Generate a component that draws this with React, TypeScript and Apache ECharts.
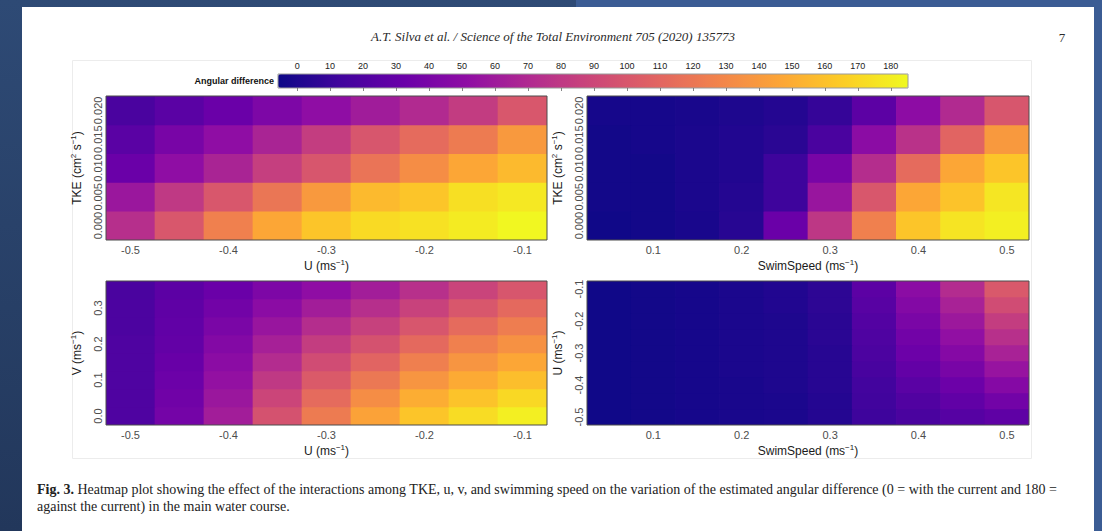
import React, { useEffect, useRef } from 'react';
import * as echarts from 'echarts';

// ---------- data ----------
const U_VALUES = [-0.5, -0.45, -0.4, -0.35, -0.3, -0.25, -0.2, -0.15, -0.1];
const SWIM_VALUES = [0.05, 0.1, 0.15, 0.2, 0.25, 0.3, 0.35, 0.4, 0.45, 0.5];
const TKE_VALUES = [0, 0.005, 0.01, 0.015, 0.02];
const V_VALUES = [0, 0.05, 0.1, 0.15, 0.2, 0.25, 0.3, 0.35];
const COLORBAR_TICKS = [0, 10, 20, 30, 40, 50, 60, 70, 80, 90, 100, 110, 120, 130, 140, 150, 160, 170, 180];

// Angular difference; rows follow the y categories from bottom to top, columns the x categories
const ANGLE_TKE_U = [
  [75, 100, 124, 144, 158, 167, 170, 174, 179],
  [60, 81, 100, 118, 137, 153, 158, 169, 173],
  [36, 54, 68, 85, 99, 117, 131, 144, 153],
  [29, 43, 54, 68, 84, 99, 112, 121, 137],
  [22, 29, 36, 45, 54, 63, 72, 83, 100],
];
const ANGLE_TKE_SWIM = [
  [1, 2, 4, 9, 36, 80, 124, 158, 171, 176],
  [2, 2, 5, 8, 17, 59, 100, 144, 157, 172],
  [2, 2, 5, 7, 17, 43, 74, 112, 144, 158],
  [2, 3, 5, 7, 10, 22, 52, 77, 108, 137],
  [3, 3, 4, 6, 8, 14, 30, 53, 72, 99],
];
const ANGLE_V_U = [
  [24, 41, 64, 97, 121, 142, 158, 168, 176],
  [24, 39, 60, 89, 112, 131, 147, 157, 166],
  [24, 37, 56, 81, 102, 119, 135, 146, 155],
  [24, 35, 52, 73, 93, 108, 123, 135, 144],
  [24, 33, 48, 66, 84, 97, 111, 124, 133],
  [23, 32, 44, 59, 74, 86, 99, 112, 122],
  [23, 31, 40, 52, 64, 75, 87, 100, 111],
  [22, 30, 36, 45, 54, 64, 76, 88, 99],
];
const ANGLE_U_SWIM = [
  [1, 2, 3, 4, 5, 8, 17, 22, 27, 31],
  [1, 2, 3, 4, 5, 8, 18, 25, 32, 40],
  [1, 2, 3, 4, 6, 9, 19, 29, 37, 49],
  [1, 2, 3, 5, 6, 9, 21, 33, 43, 58],
  [1, 2, 3, 5, 6, 9, 23, 37, 49, 67],
  [1, 2, 3, 5, 6, 10, 24, 40, 55, 76],
  [1, 2, 3, 5, 6, 10, 26, 44, 61, 84],
  [1, 2, 3, 5, 7, 11, 28, 48, 67, 93],
  [1, 2, 3, 5, 7, 11, 30, 52, 73, 101],
];

const PLASMA = [
  '#0d0887', '#41049d', '#6a00a8', '#8f0da4', '#b12a90', '#cc4778',
  '#e16462', '#f2844b', '#fca636', '#fcce25', '#f0f921',
];

const HEADER = 'A.T. Silva et al. / Science of the Total Environment 705 (2020) 135773';
const CAPTION_1 =
  'Heatmap plot showing the effect of the interactions among TKE, u, v, and swimming speed on the variation of the estimated angular difference (0 = with the current and 180 =';
const CAPTION_2 = 'against the current) in the main water course.';

const SANS = '"Liberation Sans", Arial, sans-serif';
const SERIF = '"Liberation Serif", "Times New Roman", serif';

const toCells = (m: number[][]) => m.flatMap((row, y) => row.map((v, x) => [x, y, v]));

const nameStyle = {
  rich: {
    n: { fontSize: 12, fontFamily: SANS, color: '#1a1a1a', lineHeight: 15 },
    s: { fontSize: 8, fontFamily: SANS, color: '#1a1a1a', lineHeight: 8, verticalAlign: 'top' },
  },
};

type Panel = {
  grid: { left: number; top: number; width: number; height: number };
  xs: number[];
  ys: number[];
  xName: string;
  yName: string;
  xShow: (i: number) => boolean;
  yShow: (i: number) => boolean;
  yDigits: number;
  data: number[][];
};

const PANELS: Panel[] = [
  {
    grid: { left: 106, top: 96, width: 441, height: 144 },
    xs: U_VALUES, ys: TKE_VALUES,
    xName: '{n|U (ms}{s|−1}{n|)}', yName: '{n|TKE (cm}{s|2}{n| s}{s|−1}{n|)}',
    xShow: (i) => i % 2 === 0, yShow: () => true, yDigits: 3, data: ANGLE_TKE_U,
  },
  {
    grid: { left: 587, top: 96, width: 442, height: 144 },
    xs: SWIM_VALUES, ys: TKE_VALUES,
    xName: '{n|SwimSpeed (ms}{s|−1}{n|)}', yName: '{n|TKE (cm}{s|2}{n| s}{s|−1}{n|)}',
    xShow: (i) => i % 2 === 1, yShow: () => true, yDigits: 3, data: ANGLE_TKE_SWIM,
  },
  {
    grid: { left: 106, top: 281, width: 441, height: 144 },
    xs: U_VALUES, ys: V_VALUES,
    xName: '{n|U (ms}{s|−1}{n|)}', yName: '{n|V (ms}{s|−1}{n|)}',
    xShow: (i) => i % 2 === 0, yShow: (i) => i % 2 === 0, yDigits: 1, data: ANGLE_V_U,
  },
  {
    grid: { left: 587, top: 281, width: 442, height: 144 },
    xs: SWIM_VALUES, ys: U_VALUES,
    xName: '{n|SwimSpeed (ms}{s|−1}{n|)}', yName: '{n|U (ms}{s|−1}{n|)}',
    xShow: (i) => i % 2 === 1, yShow: (i) => i % 2 === 0, yDigits: 1, data: ANGLE_U_SWIM,
  },
];

export default function App() {
  const ref = useRef<HTMLDivElement>(null);

  useEffect(() => {
    if (!ref.current) return;
    const chart = echarts.init(ref.current, null, { renderer: 'svg' });

    const labelStyle = { fontSize: 11, fontFamily: SANS, color: '#4d4d4d' };

    const grids: any[] = PANELS.map((p) => ({
      ...p.grid,
      show: true,
      z: 10,
      backgroundColor: 'transparent',
      borderColor: '#4d4d4d',
      borderWidth: 1,
      containLabel: false,
    }));
    grids.push({
      left: 278, top: 74, width: 630, height: 14, show: true, z: 10,
      backgroundColor: 'transparent', borderColor: '#9a9a9a', borderWidth: 1,
    });

    const xAxes: any[] = PANELS.map((p, i) => ({
      type: 'category',
      gridIndex: i,
      data: p.xs.map(String),
      axisLine: { show: false },
      axisTick: { show: false },
      splitLine: { show: false },
      axisLabel: {
        ...labelStyle,
        margin: 4,
        interval: (idx: number) => p.xShow(idx),
        formatter: (v: string) => Number(v).toFixed(1),
      },
      name: p.xName,
      nameLocation: 'middle',
      nameGap: 18,
      nameTextStyle: nameStyle,
    }));
    xAxes.push({
      type: 'value',
      gridIndex: 4,
      min: -5.8,
      max: 185.2,
      position: 'top',
      z: 12,
      axisLine: { show: false },
      splitLine: { show: false },
      axisTick: { show: true, inside: true, length: 3, customValues: COLORBAR_TICKS, lineStyle: { color: '#666', width: 0.8 } },
      axisLabel: { customValues: COLORBAR_TICKS, fontSize: 9, fontFamily: SANS, color: '#222', margin: 4 },
    });

    const yAxes: any[] = PANELS.map((p, i) => ({
      type: 'category',
      gridIndex: i,
      data: p.ys.map(String),
      axisLine: { show: false },
      axisTick: { show: false },
      splitLine: { show: false },
      axisLabel: {
        ...labelStyle,
        rotate: 90,
        margin: 3,
        interval: (idx: number) => p.yShow(idx),
        formatter: (v: string) => Number(v).toFixed(p.yDigits),
      },
      name: p.yName,
      nameLocation: 'middle',
      nameRotate: 90,
      nameGap: 22,
      nameTextStyle: nameStyle,
    }));
    yAxes.push({ type: 'value', gridIndex: 4, show: false, min: 0, max: 1 });

    const series: any[] = PANELS.map((p, i) => ({
      type: 'custom',
      xAxisIndex: i,
      yAxisIndex: i,
      clip: true,
      silent: true,
      encode: { x: 0, y: 1 },
      data: toCells(p.data),
      renderItem: (_params: any, api: any) => {
        const c = api.coord([api.value(0), api.value(1)]);
        const s = api.size([1, 1]);
        return {
          type: 'rect',
          shape: {
            x: c[0] - s[0] / 2 - 0.35,
            y: c[1] - s[1] / 2 - 0.35,
            width: s[0] + 0.7,
            height: s[1] + 0.7,
          },
          style: { fill: api.visual('color') },
        };
      },
    }));

    const text = (x: number, y: number, t: string, font: string, align: string, extra: any = {}) => ({
      type: 'text',
      x,
      y,
      silent: true,
      style: {
        text: t, font, fill: '#2b2b2b', align, verticalAlign: 'middle',
        textAlign: align, textVerticalAlign: 'middle', ...extra,
      },
    });

    chart.setOption({
      animation: false,
      backgroundColor: 'transparent',
      grid: grids,
      xAxis: xAxes,
      yAxis: yAxes,
      visualMap: {
        type: 'continuous',
        min: 0,
        max: 180,
        dimension: 2,
        seriesIndex: [0, 1, 2, 3],
        orient: 'horizontal',
        left: 278,
        top: 74,
        itemWidth: 14,
        itemHeight: 630,
        padding: 0,
        calculable: false,
        hoverLink: false,
        inRange: { color: PLASMA },
      },
      graphic: [
        {
          type: 'rect', silent: true, z: -1,
          shape: { x: 72.5, y: 60.5, width: 959, height: 398 },
          style: { fill: 'none', stroke: '#ececec', lineWidth: 1 },
        },
        text(553, 36, HEADER, `italic 13px ${SERIF}`, 'center'),
        text(1062, 37, '7', `13px ${SERIF}`, 'center'),
        text(274, 81, 'Angular difference', `bold 9px ${SANS}`, 'right', { fill: '#111' }),
        {
          type: 'text', x: 37, y: 489, silent: true,
          style: {
            text: '{b|Fig. 3.} ' + CAPTION_1,
            font: `14px ${SERIF}`, fill: '#222',
            verticalAlign: 'middle', textVerticalAlign: 'middle',
            rich: { b: { fontWeight: 'bold', fontSize: 14, fontFamily: SERIF, fill: '#222', color: '#222' } },
          },
        },
        text(37, 506, CAPTION_2, `14px ${SERIF}`, 'left', { fill: '#222' }),
      ],
      series,
    });

    return () => chart.dispose();
  }, []);

  return (
    <div
      style={{
        position: 'absolute',
        left: 0,
        top: 0,
        width: 1102,
        height: 531,
        background:
          'linear-gradient(#ffffff,#ffffff) 22px 7px / 1072px 524px no-repeat,' +
          'linear-gradient(#3b5c94,#3b5c94) 576px 0 / 526px 7px no-repeat,' +
          'linear-gradient(#3b5c94,#3b5c94) 1094px 0 / 8px 531px no-repeat,' +
          'linear-gradient(180deg,#2e4a75,#22375b)',
      }}
    >
      <div ref={ref} style={{ width: 1102, height: 531 }} />
    </div>
  );
}
